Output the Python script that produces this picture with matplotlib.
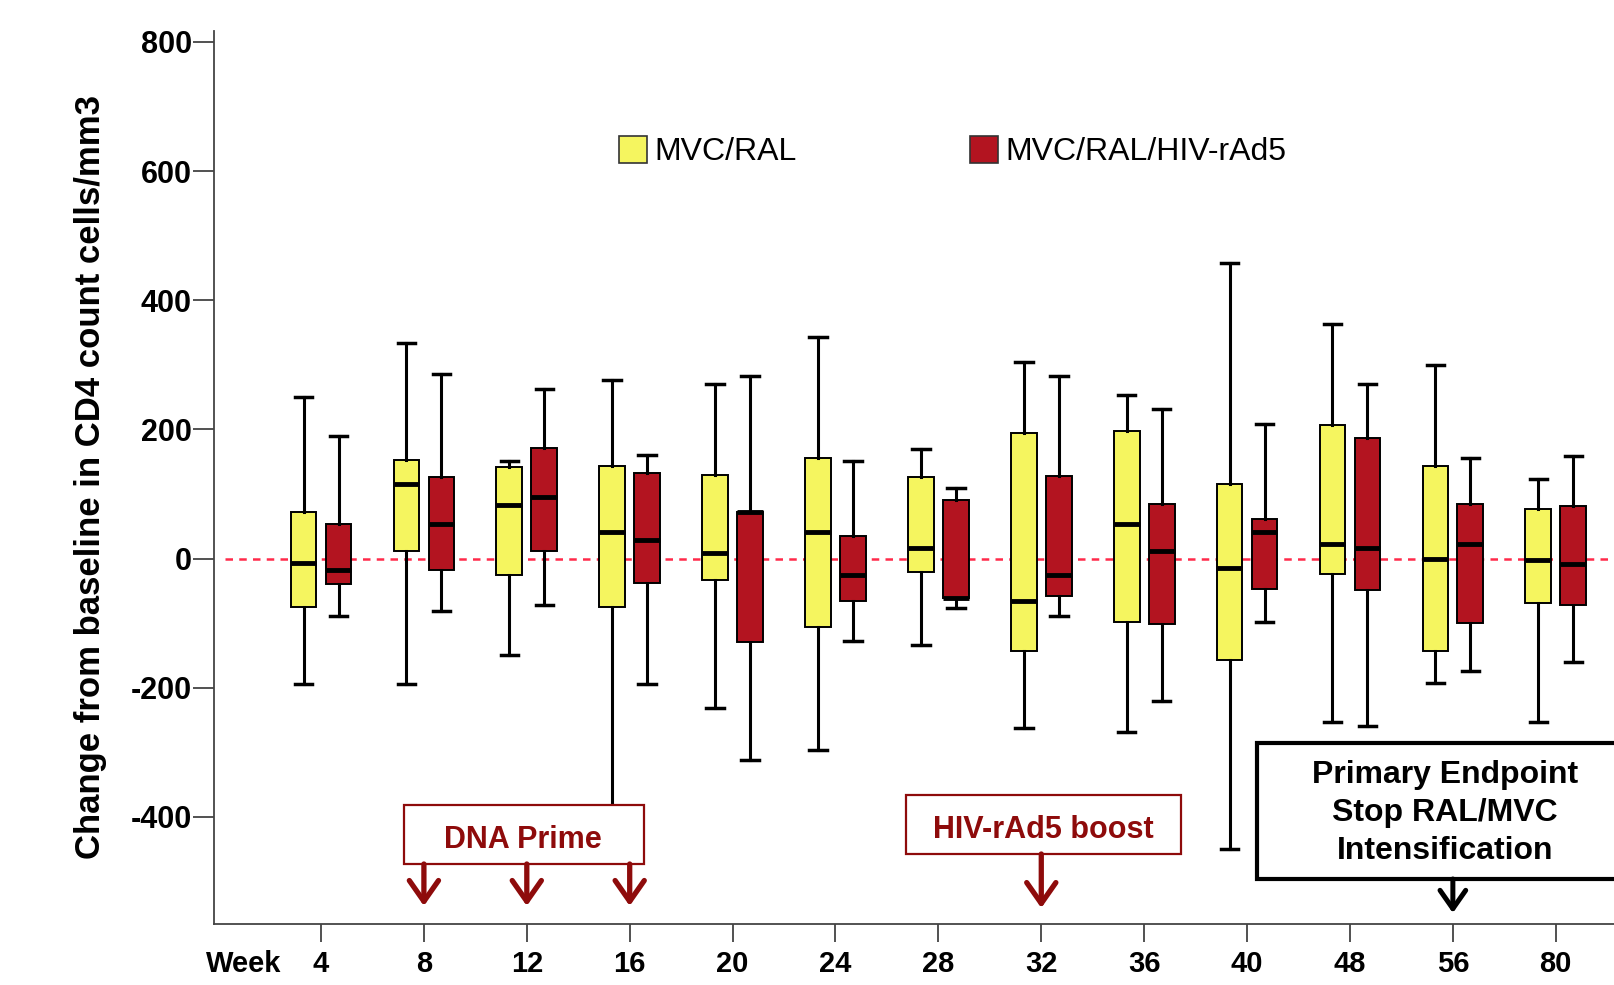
import matplotlib
matplotlib.use("Agg")
import matplotlib.pyplot as plt
from matplotlib.patches import Rectangle
import matplotlib.transforms as mtransforms

plt.rcParams['font.family'] = ['Liberation Sans', 'DejaVu Sans']

weeks = ['4', '8', '12', '16', '20', '24', '28', '32', '36', '40', '48', '56', '80']

# MVC/RAL (yellow)
ral_lo = [-195, -194, -149, -430, -232, -296, -134, -263, -268, -450, -253, -193, -253]
ral_q1 = [-75, 11, -25, -75, -34, -106, -21, -143, -99, -157, -24, -143, -69]
ral_med = [-7, 115, 83, 41, 8, 41, 16, -65, 53, -14, 22, -1, -3]
ral_q3 = [72, 152, 142, 144, 130, 156, 126, 194, 198, 115, 207, 143, 76]
ral_hi = [250, 334, 151, 276, 270, 343, 170, 305, 253, 457, 363, 300, 123]

# MVC/RAL/HIV-rAd5 (red)
vac_lo = [-89, -82, -72, -194, -312, -127, -76, -89, -221, -99, -260, -174, -161]
vac_q1 = [-40, -18, 12, -38, -130, -65, -61, -58, -102, -47, -49, -100, -72]
vac_med = [-18, 54, 96, 29, 72, -26, -61, -26, 12, 41, 17, 23, -8]
vac_q3 = [53, 126, 171, 133, 72, 35, 90, 128, 85, 62, 187, 84, 81]
vac_hi = [190, 286, 263, 161, 283, 151, 109, 283, 231, 209, 270, 156, 159]

yellow = '#F5F55F'
red = '#B31420'
darkred = '#8E0B0B'


def make_stats(lo, q1, med, q3, hi):
    return [dict(whislo=a, q1=b, med=c, q3=d, whishi=e, fliers=[])
            for a, b, c, d, e in zip(lo, q1, med, q3, hi)]


fig = plt.figure(figsize=(16.14, 9.85), dpi=100)
ax = fig.add_axes([214 / 1614, 61 / 985, 1400 / 1614, 893 / 985])

pos = list(range(len(weeks)))
common = dict(widths=0.25, patch_artist=True, showfliers=False, capwidths=0.17,
              medianprops=dict(color='black', linewidth=3.5),
              whiskerprops=dict(color='black', linewidth=2.2),
              capprops=dict(color='black', linewidth=2.5))
ax.bxp(make_stats(ral_lo, ral_q1, ral_med, ral_q3, ral_hi),
       positions=[p - 0.17 for p in pos],
       boxprops=dict(facecolor=yellow, edgecolor='black', linewidth=1.4), **common)
ax.bxp(make_stats(vac_lo, vac_q1, vac_med, vac_q3, vac_hi),
       positions=[p + 0.17 for p in pos],
       boxprops=dict(facecolor=red, edgecolor='black', linewidth=1.4), **common)

ax.axhline(0, xmin=0.008, xmax=1, color='#FF2A4A', linewidth=1.8, dashes=(3, 2.5), zorder=1)

ax.set_xlim(-1.04, 12.566)
ax.set_ylim(-566, 817)
ax.set_yticks([-400, -200, 0, 200, 400, 600, 800])
ax.set_yticklabels(['-400', '-200', '0', '200', '400', '600', '800'])
ax.set_xticks(pos)
ax.set_xticklabels(weeks)
for lab in ax.get_xticklabels():
    lab.set_fontweight('bold')
    lab.set_fontsize(21)
for lab in ax.get_yticklabels():
    lab.set_fontweight('bold')
    lab.set_fontsize(22)
ax.tick_params(axis='y', length=15, width=1.2, pad=1, color='#333333')
ax.tick_params(axis='x', length=13, width=1.2, pad=6, color='#333333')
ax.spines['top'].set_visible(False)
ax.spines['right'].set_visible(False)
for s in ['left', 'bottom']:
    ax.spines[s].set_color('#444444')
    ax.spines[s].set_linewidth(1.3)

ax.text(0.0214, -0.0448, 'Week', transform=ax.transAxes, ha='center', va='center',
        fontsize=21, fontweight='bold')

fig.text(90.6 / 1614, 1 - 477 / 985, 'Change from baseline in CD4 count cells/mm3',
         rotation=90, ha='center', va='center', fontsize=25, fontweight='bold')

# legend
for x0, col, label in [(618.6, yellow, 'MVC/RAL'), (969.6, red, 'MVC/RAL/HIV-rAd5')]:
    fig.add_artist(Rectangle((x0 / 1614, 1 - 162.6 / 985), 28.8 / 1614, 26.7 / 985,
                             transform=fig.transFigure, facecolor=col,
                             edgecolor='#333333', linewidth=1.2))
    fig.text((x0 + 36) / 1614, 1 - 152 / 985, label, ha='left', va='center',
             fontsize=23, color='black')

# annotation boxes
def ax_box(x0, y0, x1, y1, ec, lw):
    ax.add_patch(Rectangle((x0, y1), x1 - x0, y0 - y1, transform=ax.transAxes,
                           facecolor='white', edgecolor=ec, linewidth=lw,
                           zorder=5, clip_on=False))


ax_box(0.1357, 0.1333, 0.3071, 0.0672, darkred, 1.6)
ax.text(0.2207, 0.094, 'DNA Prime', transform=ax.transAxes, ha='center', va='center',
        fontsize=22, fontweight='bold', color=darkred, zorder=6)
ax_box(0.4943, 0.1445, 0.6907, 0.0784, darkred, 1.6)
ax.text(0.5921, 0.105, 'HIV-rAd5 boost', transform=ax.transAxes, ha='center',
        va='center', fontsize=22, fontweight='bold', color=darkred, zorder=6)
ax_box(0.745, 0.2027, 1.02, 0.0504, 'black', 3)
ax.text(0.8793, 0.124, 'Primary Endpoint\nStop RAL/MVC\nIntensification',
        transform=ax.transAxes, ha='center', va='center', fontsize=23,
        fontweight='bold', color='black', linespacing=1.35, zorder=6)

trans = mtransforms.blended_transform_factory(ax.transData, ax.transAxes)
astyle = '->,head_length=0.6,head_width=0.42'
arrow_red = dict(arrowstyle=astyle, color=darkred, lw=3.8, mutation_scale=25,
                 shrinkA=0, shrinkB=0)
arrow_blk = dict(arrowstyle=astyle, color='black', lw=3.6, mutation_scale=22,
                 shrinkA=0, shrinkB=0)
for wk in ['8', '12', '16']:
    xi = weeks.index(wk)
    ax.annotate('', xy=(xi, 0.0202), xytext=(xi, 0.0672), xycoords=trans,
                textcoords=trans, arrowprops=arrow_red, zorder=6)
xi = weeks.index('32')
ax.annotate('', xy=(xi, 0.0179), xytext=(xi, 0.0784), xycoords=trans,
            textcoords=trans, arrowprops=arrow_red, zorder=6)
xi = weeks.index('56')
ax.annotate('', xy=(xi, 0.0123), xytext=(xi, 0.0504), xycoords=trans,
            textcoords=trans, arrowprops=arrow_blk, zorder=6)

fig.savefig('out.png', dpi=100)
